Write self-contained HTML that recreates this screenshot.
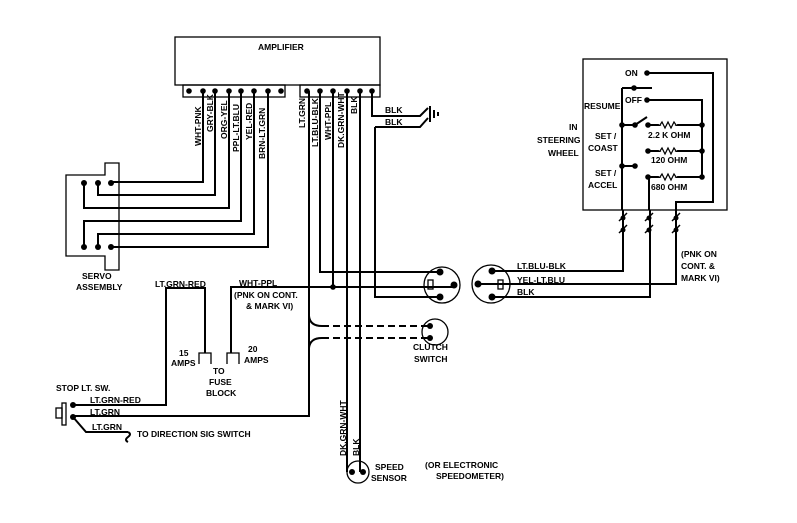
<!DOCTYPE html>
<html><head><meta charset="utf-8"><style>
html,body{margin:0;padding:0;background:#fff}
svg{display:block}
text{font-family:"Liberation Sans",sans-serif;font-weight:bold;font-size:8.5px;fill:#000}
</style></head><body>
<svg width="797" height="523" viewBox="0 0 797 523" xmlns="http://www.w3.org/2000/svg">
<g fill="none" stroke="#000" stroke-width="1.3">
<rect x="175" y="37" width="205" height="48"/>
<rect x="183" y="85" width="102" height="12"/>
<rect x="300" y="85" width="80" height="12"/>
<path d="M105 175 V163 H119 V270 H105 V256 H66 V175 Z"/>
<rect x="583" y="59" width="144" height="151"/>
<circle cx="442" cy="285" r="18"/>
<rect x="428" y="280" width="5" height="9"/>
<circle cx="491" cy="284" r="19"/>
<rect x="498" y="280" width="5" height="9"/>
<circle cx="435" cy="332" r="13"/>
<circle cx="358" cy="472" r="11"/>
<path d="M199 364 V353 H211 V364 M227 364 V353 H239 V364"/>
<rect x="56" y="408" width="6" height="10"/>
<rect x="62" y="403" width="4" height="22"/>
</g>
<g fill="none" stroke="#000" stroke-width="2">
<path d="M203 91 V182 H111"/>
<path d="M215 91 V195 H98 V183"/>
<path d="M229 91 V208 H84 V183"/>
<path d="M241 91 V221 H84 V247"/>
<path d="M254 91 V234 H98 V247"/>
<path d="M268 91 V247 H111"/>
<path d="M309 91 V416 H73"/>
<path d="M320 91 V272 H440"/>
<path d="M333 91 V287"/>
<path d="M231 353 V287 H454"/>
<path d="M347 91 V472"/>
<path d="M360 91 V472"/>
<path d="M372 91 V116 H420 L428 108"/>
<path d="M375 127 H420 L428 118"/>
<path d="M375 127 V297 H440"/>
<path d="M430 106 V122"/>
<path d="M434 110 V118 M438 112 V116"/>
<path d="M205 353 V288 H166 V405 H73"/>
<path d="M73 417 L86 432 H128"/>
<path d="M128 432 q4 2 0 5 q-4 3 0 5"/>
<path d="M492 271 H623 V210"/>
<path d="M478 284 H676 V210"/>
<path d="M492 297 H650 V210"/>
<path d="M647 73 H713 V202 H676 V210"/>
<path d="M647 100 H702 V177 H648"/>
<path d="M648 125 H702 M648 151 H702"/>
<path d="M649 177 V210"/>
<path d="M622 88 H652 M622 88 V210"/>
<path d="M622 125 H635 L647 117"/>
<path d="M622 166 H635"/>
<path d="M309 316 Q310 326 322 326 M309 348 Q310 338 322 338"/>
</g>
<g fill="none" stroke="#000" stroke-width="1.2">
<path d="M660 125 l2 -3 l3 6 l3 -6 l3 6 l3 -6 l2 3" stroke="#fff" stroke-width="4"/>
<path d="M660 125 l2 -3 l3 6 l3 -6 l3 6 l3 -6 l2 3"/>
<path d="M660 151 l2 -3 l3 6 l3 -6 l3 6 l3 -6 l2 3" stroke="#fff" stroke-width="4"/>
<path d="M660 151 l2 -3 l3 6 l3 -6 l3 6 l3 -6 l2 3"/>
<path d="M660 177 l2 -3 l3 6 l3 -6 l3 6 l3 -6 l2 3" stroke="#fff" stroke-width="4"/>
<path d="M660 177 l2 -3 l3 6 l3 -6 l3 6 l3 -6 l2 3"/>
</g>
<g fill="none" stroke="#000" stroke-width="1.5">
<path d="M619 221 L627 213 M619 233 L627 225 M645 221 L653 213 M645 233 L653 225 M672 221 L680 213 M672 233 L680 225"/>
</g>
<g fill="none" stroke="#000" stroke-width="2" stroke-dasharray="7,4">
<path d="M322 326 H430"/>
<path d="M322 338 H430"/>
</g>
<g fill="#000">
<circle cx="189" cy="91" r="2.8"/><circle cx="203" cy="91" r="2.8"/><circle cx="215" cy="91" r="2.8"/><circle cx="229" cy="91" r="2.8"/><circle cx="241" cy="91" r="2.8"/><circle cx="254" cy="91" r="2.8"/><circle cx="268" cy="91" r="2.8"/><circle cx="281" cy="91" r="2.8"/>
<circle cx="307" cy="91" r="2.8"/><circle cx="320" cy="91" r="2.8"/><circle cx="333" cy="91" r="2.8"/><circle cx="347" cy="91" r="2.8"/><circle cx="360" cy="91" r="2.8"/><circle cx="372" cy="91" r="2.8"/>
<circle cx="84" cy="183" r="3"/><circle cx="98" cy="183" r="3"/><circle cx="111" cy="183" r="3"/>
<circle cx="84" cy="247" r="3"/><circle cx="98" cy="247" r="3"/><circle cx="111" cy="247" r="3"/>
<circle cx="333" cy="287" r="2.8"/>
<circle cx="440" cy="272" r="3.5"/><circle cx="454" cy="285" r="3.5"/><circle cx="440" cy="297" r="3.5"/>
<circle cx="492" cy="271" r="3.5"/><circle cx="478" cy="284" r="3.5"/><circle cx="492" cy="297" r="3.5"/>
<circle cx="430" cy="326" r="3"/><circle cx="430" cy="338" r="3"/>
<circle cx="352" cy="472" r="3"/><circle cx="363" cy="472" r="3"/>
<circle cx="73" cy="405" r="3"/><circle cx="73" cy="417" r="3"/>
<circle cx="647" cy="73" r="2.8"/><circle cx="634" cy="88" r="2.8"/><circle cx="647" cy="100" r="2.8"/>
<circle cx="622" cy="125" r="2.8"/><circle cx="635" cy="125" r="2.8"/><circle cx="648" cy="125" r="2.8"/><circle cx="702" cy="125" r="2.8"/>
<circle cx="648" cy="151" r="2.8"/><circle cx="702" cy="151" r="2.8"/>
<circle cx="622" cy="166" r="2.8"/><circle cx="635" cy="166" r="2.8"/>
<circle cx="648" cy="177" r="2.8"/><circle cx="702" cy="177" r="2.8"/>
<circle cx="623" cy="218" r="2.5"/><circle cx="649" cy="218" r="2.5"/><circle cx="676" cy="218" r="2.5"/>
<circle cx="623" cy="230" r="2.5"/><circle cx="649" cy="230" r="2.5"/><circle cx="676" cy="230" r="2.5"/>
</g>
<text x="258" y="50">AMPLIFIER</text>
<g font-size="8">
<text transform="translate(201,146) rotate(-90)">WHT-PNK</text>
<text transform="translate(213,132) rotate(-90)">GRY-BLK</text>
<text transform="translate(227,139) rotate(-90)">ORG-YEL</text>
<text transform="translate(239,152) rotate(-90)">PPL-LT.BLU</text>
<text transform="translate(252,140) rotate(-90)">YEL-RED</text>
<text transform="translate(265,159) rotate(-90)">BRN-LT.GRN</text>
<text transform="translate(305,128) rotate(-90)">LT.GRN</text>
<text transform="translate(318,147) rotate(-90)">LT.BLU-BLK</text>
<text transform="translate(331,140) rotate(-90)">WHT-PPL</text>
<text transform="translate(344,148) rotate(-90)">DK.GRN-WHT</text>
<text transform="translate(357,114) rotate(-90)">BLK</text>
<text transform="translate(346,456) rotate(-90)">DK.GRN-WHT</text>
<text transform="translate(359,456) rotate(-90)">BLK</text>
</g>
<text x="385" y="113">BLK</text>
<text x="385" y="125">BLK</text>
<text x="82" y="279">SERVO</text>
<text x="76" y="290">ASSEMBLY</text>
<text x="155" y="287" font-weight="normal">LT.GRN-RED</text>
<text x="239" y="286" font-weight="normal">WHT-PPL</text>
<text x="234" y="298" font-weight="normal">(PNK ON CONT.</text>
<text x="246" y="309" font-weight="normal">&amp; MARK VI)</text>
<text x="179" y="356">15</text>
<text x="171" y="366">AMPS</text>
<text x="248" y="352">20</text>
<text x="244" y="363">AMPS</text>
<text x="213" y="374">TO</text>
<text x="209" y="385">FUSE</text>
<text x="206" y="396">BLOCK</text>
<text x="56" y="391">STOP LT. SW.</text>
<text x="90" y="403" font-weight="normal">LT.GRN-RED</text>
<text x="90" y="415" font-weight="normal">LT.GRN</text>
<text x="92" y="430" font-weight="normal">LT.GRN</text>
<text x="137" y="437">TO DIRECTION SIG SWITCH</text>
<text x="413" y="350">CLUTCH</text>
<text x="414" y="362">SWITCH</text>
<text x="375" y="470">SPEED</text>
<text x="371" y="481">SENSOR</text>
<text x="425" y="468">(OR ELECTRONIC</text>
<text x="436" y="479">SPEEDOMETER)</text>
<text x="517" y="269" font-weight="normal">LT.BLU-BLK</text>
<text x="517" y="283" font-weight="normal">YEL-LT.BLU</text>
<text x="517" y="295" font-weight="normal">BLK</text>
<text x="681" y="257">(PNK ON</text>
<text x="681" y="269">CONT. &amp;</text>
<text x="681" y="281">MARK VI)</text>
<text x="625" y="76">ON</text>
<text x="625" y="103">OFF</text>
<text x="584" y="109">RESUME</text>
<text x="569" y="130">IN</text>
<text x="537" y="143">STEERING</text>
<text x="548" y="156">WHEEL</text>
<text x="595" y="139">SET /</text>
<text x="588" y="151">COAST</text>
<text x="595" y="176">SET /</text>
<text x="588" y="188">ACCEL</text>
<text x="648" y="138">2.2 K OHM</text>
<text x="651" y="163">120 OHM</text>
<text x="651" y="190">680 OHM</text>
</svg>
</body></html>
